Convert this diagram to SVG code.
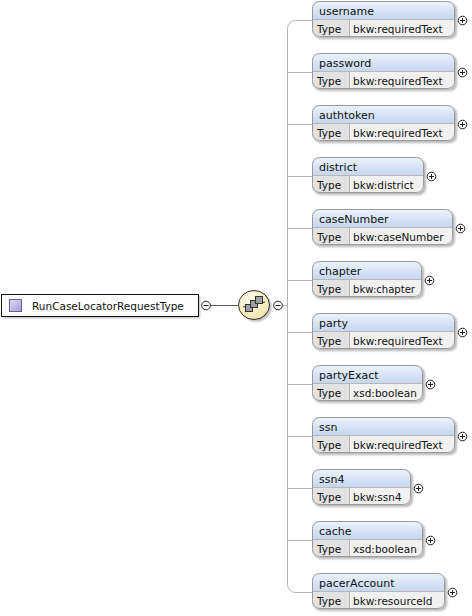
<svg xmlns="http://www.w3.org/2000/svg" width="472" height="616" viewBox="0 0 472 616">
<style>
text{font-family:"DejaVu Sans","Liberation Sans",sans-serif;font-size:11px;fill:#111}
.root-t{font-size:10.5px}
.v,.t{font-size:10.5px}
.shadow{fill:#000;opacity:.28;filter:url(#blur)}
.hdr{fill:url(#hdrGrad)}
.tcell{fill:#e2e2e2}
.vcell{fill:#f1f1f1}
.border{fill:none;stroke:#9a9a9a;stroke-width:1}
.div{stroke:#b8b8b8;stroke-width:1}
.conn{fill:none;stroke:#b4b4b4;stroke-width:1}
.dark{fill:none;stroke:#5a5a5a;stroke-width:1}
.pm{fill:#fff;stroke:#222;stroke-width:1}
.pml{stroke:#222;stroke-width:1}
</style>
<defs>
<filter id="blur" x="-10%" y="-20%" width="120%" height="140%"><feGaussianBlur stdDeviation="1"/></filter>
<linearGradient id="hdrGrad" x1="0" y1="0" x2="0" y2="1"><stop offset="0" stop-color="#eef3fb"/><stop offset="1" stop-color="#c6d6f0"/></linearGradient>
<linearGradient id="purGrad" x1="0" y1="0" x2="1" y2="1"><stop offset="0" stop-color="#e4dcf6"/><stop offset="1" stop-color="#a999d6"/></linearGradient>
<radialGradient id="compGrad" cx="0.4" cy="0.35" r="0.7"><stop offset="0" stop-color="#fffdf0"/><stop offset="1" stop-color="#efe3a6"/></radialGradient>
</defs>

<g id="connectors">
<line class="dark" x1="210.5" y1="305.5" x2="238.5" y2="305.5"/>
<line class="conn" x1="282.5" y1="305.5" x2="287.5" y2="305.5"/>
<path class="conn" d="M312,20.5 H295.5 A8,8 0 0 0 287.5,28.5 V584.5 A8,8 0 0 0 295.5,592.5 H312"/>
<path class="conn" d="M287.5,72.5 H312 M287.5,124.5 H312 M287.5,176.5 H312 M287.5,228.5 H312 M287.5,280.5 H312 M287.5,332.5 H312 M287.5,384.5 H312 M287.5,436.5 H312 M287.5,488.5 H312 M287.5,540.5 H312"/>
</g>

<g id="root">
<rect class="shadow" x="3" y="296" width="197" height="22"/>
<rect x="1.5" y="294.5" width="197" height="22" fill="#fdfdfd" stroke="#111"/>
<rect x="9.5" y="299.5" width="12" height="12" fill="url(#purGrad)" stroke="#6b5c9e"/>
<text class="root-t" x="32" y="309.5">RunCaseLocatorRequestType</text>
<circle class="pm" cx="206" cy="305.5" r="4.3"/>
<line class="pml" x1="203.5" y1="305.5" x2="208.5" y2="305.5"/>
</g>

<g id="sequence">
<ellipse class="shadow" cx="256" cy="307" rx="15.5" ry="14.5"/>
<ellipse cx="254" cy="305" rx="15.5" ry="14.5" fill="url(#compGrad)" stroke="#333"/>
<line x1="243" y1="307" x2="265" y2="302" stroke="#333"/>
<rect x="245.5" y="304.5" width="7" height="7" fill="#a0a0a0" stroke="#333"/>
<rect x="250.5" y="300.5" width="7" height="7" fill="#a0a0a0" stroke="#333"/>
<rect x="255.5" y="296.5" width="7" height="7" fill="#a0a0a0" stroke="#333"/>
<circle class="pm" cx="278" cy="305.5" r="4.3"/>
<line class="pml" x1="275.5" y1="305.5" x2="280.5" y2="305.5"/>
</g>

<g id="el-username" transform="translate(312,1)">
<rect class="shadow" x="2" y="2" width="143" height="36" rx="7"/>
<path class="hdr" d="M0,18 V7 A7,7 0 0 1 7,0 H136 A7,7 0 0 1 143,7 V18 Z"/>
<path class="tcell" d="M0,18 H37 V36 H7 A7,7 0 0 1 0,29 Z"/>
<path class="vcell" d="M37,18 H143 V29 A7,7 0 0 1 136,36 H37 Z"/>
<line class="div" x1="0" y1="18.5" x2="143" y2="18.5"/><line class="div" x1="37.5" y1="18.5" x2="37.5" y2="36"/>
<rect class="border" x="0.5" y="0.5" width="142" height="35" rx="7"/>
<text x="7" y="13.5">username</text><text class="t" x="5" y="32">Type</text><text class="v" x="41" y="32">bkw:requiredText</text>
<circle class="pm" cx="150.5" cy="19.5" r="4.3"/><path class="pml" d="M148,19.5 H153 M150.5,17 V22"/>
</g>

<g id="el-password" transform="translate(312,53)">
<rect class="shadow" x="2" y="2" width="143" height="36" rx="7"/>
<path class="hdr" d="M0,18 V7 A7,7 0 0 1 7,0 H136 A7,7 0 0 1 143,7 V18 Z"/>
<path class="tcell" d="M0,18 H37 V36 H7 A7,7 0 0 1 0,29 Z"/>
<path class="vcell" d="M37,18 H143 V29 A7,7 0 0 1 136,36 H37 Z"/>
<line class="div" x1="0" y1="18.5" x2="143" y2="18.5"/><line class="div" x1="37.5" y1="18.5" x2="37.5" y2="36"/>
<rect class="border" x="0.5" y="0.5" width="142" height="35" rx="7"/>
<text x="7" y="13.5">password</text><text class="t" x="5" y="32">Type</text><text class="v" x="41" y="32">bkw:requiredText</text>
<circle class="pm" cx="150.5" cy="19.5" r="4.3"/><path class="pml" d="M148,19.5 H153 M150.5,17 V22"/>
</g>

<g id="el-authtoken" transform="translate(312,105)">
<rect class="shadow" x="2" y="2" width="143" height="36" rx="7"/>
<path class="hdr" d="M0,18 V7 A7,7 0 0 1 7,0 H136 A7,7 0 0 1 143,7 V18 Z"/>
<path class="tcell" d="M0,18 H37 V36 H7 A7,7 0 0 1 0,29 Z"/>
<path class="vcell" d="M37,18 H143 V29 A7,7 0 0 1 136,36 H37 Z"/>
<line class="div" x1="0" y1="18.5" x2="143" y2="18.5"/><line class="div" x1="37.5" y1="18.5" x2="37.5" y2="36"/>
<rect class="border" x="0.5" y="0.5" width="142" height="35" rx="7"/>
<text x="7" y="13.5">authtoken</text><text class="t" x="5" y="32">Type</text><text class="v" x="41" y="32">bkw:requiredText</text>
<circle class="pm" cx="150.5" cy="19.5" r="4.3"/><path class="pml" d="M148,19.5 H153 M150.5,17 V22"/>
</g>

<g id="el-district" transform="translate(312,157)">
<rect class="shadow" x="2" y="2" width="112" height="36" rx="7"/>
<path class="hdr" d="M0,18 V7 A7,7 0 0 1 7,0 H105 A7,7 0 0 1 112,7 V18 Z"/>
<path class="tcell" d="M0,18 H37 V36 H7 A7,7 0 0 1 0,29 Z"/>
<path class="vcell" d="M37,18 H112 V29 A7,7 0 0 1 105,36 H37 Z"/>
<line class="div" x1="0" y1="18.5" x2="112" y2="18.5"/><line class="div" x1="37.5" y1="18.5" x2="37.5" y2="36"/>
<rect class="border" x="0.5" y="0.5" width="111" height="35" rx="7"/>
<text x="7" y="13.5">district</text><text class="t" x="5" y="32">Type</text><text class="v" x="41" y="32">bkw:district</text>
<circle class="pm" cx="119.5" cy="19.5" r="4.3"/><path class="pml" d="M117,19.5 H122 M119.5,17 V22"/>
</g>

<g id="el-caseNumber" transform="translate(312,209)">
<rect class="shadow" x="2" y="2" width="141" height="36" rx="7"/>
<path class="hdr" d="M0,18 V7 A7,7 0 0 1 7,0 H134 A7,7 0 0 1 141,7 V18 Z"/>
<path class="tcell" d="M0,18 H37 V36 H7 A7,7 0 0 1 0,29 Z"/>
<path class="vcell" d="M37,18 H141 V29 A7,7 0 0 1 134,36 H37 Z"/>
<line class="div" x1="0" y1="18.5" x2="141" y2="18.5"/><line class="div" x1="37.5" y1="18.5" x2="37.5" y2="36"/>
<rect class="border" x="0.5" y="0.5" width="140" height="35" rx="7"/>
<text x="7" y="13.5">caseNumber</text><text class="t" x="5" y="32">Type</text><text class="v" x="41" y="32">bkw:caseNumber</text>
<circle class="pm" cx="148.5" cy="19.5" r="4.3"/><path class="pml" d="M146,19.5 H151 M148.5,17 V22"/>
</g>

<g id="el-chapter" transform="translate(312,261)">
<rect class="shadow" x="2" y="2" width="110" height="36" rx="7"/>
<path class="hdr" d="M0,18 V7 A7,7 0 0 1 7,0 H103 A7,7 0 0 1 110,7 V18 Z"/>
<path class="tcell" d="M0,18 H37 V36 H7 A7,7 0 0 1 0,29 Z"/>
<path class="vcell" d="M37,18 H110 V29 A7,7 0 0 1 103,36 H37 Z"/>
<line class="div" x1="0" y1="18.5" x2="110" y2="18.5"/><line class="div" x1="37.5" y1="18.5" x2="37.5" y2="36"/>
<rect class="border" x="0.5" y="0.5" width="109" height="35" rx="7"/>
<text x="7" y="13.5">chapter</text><text class="t" x="5" y="32">Type</text><text class="v" x="41" y="32" textLength="62" lengthAdjust="spacingAndGlyphs">bkw:chapter</text>
<circle class="pm" cx="117.5" cy="19.5" r="4.3"/><path class="pml" d="M115,19.5 H120 M117.5,17 V22"/>
</g>

<g id="el-party" transform="translate(312,313)">
<rect class="shadow" x="2" y="2" width="143" height="36" rx="7"/>
<path class="hdr" d="M0,18 V7 A7,7 0 0 1 7,0 H136 A7,7 0 0 1 143,7 V18 Z"/>
<path class="tcell" d="M0,18 H37 V36 H7 A7,7 0 0 1 0,29 Z"/>
<path class="vcell" d="M37,18 H143 V29 A7,7 0 0 1 136,36 H37 Z"/>
<line class="div" x1="0" y1="18.5" x2="143" y2="18.5"/><line class="div" x1="37.5" y1="18.5" x2="37.5" y2="36"/>
<rect class="border" x="0.5" y="0.5" width="142" height="35" rx="7"/>
<text x="7" y="13.5">party</text><text class="t" x="5" y="32">Type</text><text class="v" x="41" y="32">bkw:requiredText</text>
<circle class="pm" cx="150.5" cy="19.5" r="4.3"/><path class="pml" d="M148,19.5 H153 M150.5,17 V22"/>
</g>

<g id="el-partyExact" transform="translate(312,365)">
<rect class="shadow" x="2" y="2" width="111" height="36" rx="7"/>
<path class="hdr" d="M0,18 V7 A7,7 0 0 1 7,0 H104 A7,7 0 0 1 111,7 V18 Z"/>
<path class="tcell" d="M0,18 H37 V36 H7 A7,7 0 0 1 0,29 Z"/>
<path class="vcell" d="M37,18 H111 V29 A7,7 0 0 1 104,36 H37 Z"/>
<line class="div" x1="0" y1="18.5" x2="111" y2="18.5"/><line class="div" x1="37.5" y1="18.5" x2="37.5" y2="36"/>
<rect class="border" x="0.5" y="0.5" width="110" height="35" rx="7"/>
<text x="7" y="13.5">partyExact</text><text class="t" x="5" y="32">Type</text><text class="v" x="41" y="32">xsd:boolean</text>
<circle class="pm" cx="118.5" cy="19.5" r="4.3"/><path class="pml" d="M116,19.5 H121 M118.5,17 V22"/>
</g>

<g id="el-ssn" transform="translate(312,417)">
<rect class="shadow" x="2" y="2" width="143" height="36" rx="7"/>
<path class="hdr" d="M0,18 V7 A7,7 0 0 1 7,0 H136 A7,7 0 0 1 143,7 V18 Z"/>
<path class="tcell" d="M0,18 H37 V36 H7 A7,7 0 0 1 0,29 Z"/>
<path class="vcell" d="M37,18 H143 V29 A7,7 0 0 1 136,36 H37 Z"/>
<line class="div" x1="0" y1="18.5" x2="143" y2="18.5"/><line class="div" x1="37.5" y1="18.5" x2="37.5" y2="36"/>
<rect class="border" x="0.5" y="0.5" width="142" height="35" rx="7"/>
<text x="7" y="13.5">ssn</text><text class="t" x="5" y="32">Type</text><text class="v" x="41" y="32">bkw:requiredText</text>
<circle class="pm" cx="150.5" cy="19.5" r="4.3"/><path class="pml" d="M148,19.5 H153 M150.5,17 V22"/>
</g>

<g id="el-ssn4" transform="translate(312,469)">
<rect class="shadow" x="2" y="2" width="99" height="36" rx="7"/>
<path class="hdr" d="M0,18 V7 A7,7 0 0 1 7,0 H92 A7,7 0 0 1 99,7 V18 Z"/>
<path class="tcell" d="M0,18 H37 V36 H7 A7,7 0 0 1 0,29 Z"/>
<path class="vcell" d="M37,18 H99 V29 A7,7 0 0 1 92,36 H37 Z"/>
<line class="div" x1="0" y1="18.5" x2="99" y2="18.5"/><line class="div" x1="37.5" y1="18.5" x2="37.5" y2="36"/>
<rect class="border" x="0.5" y="0.5" width="98" height="35" rx="7"/>
<text x="7" y="13.5">ssn4</text><text class="t" x="5" y="32">Type</text><text class="v" x="41" y="32">bkw:ssn4</text>
<circle class="pm" cx="106.5" cy="19.5" r="4.3"/><path class="pml" d="M104,19.5 H109 M106.5,17 V22"/>
</g>

<g id="el-cache" transform="translate(312,521)">
<rect class="shadow" x="2" y="2" width="111" height="36" rx="7"/>
<path class="hdr" d="M0,18 V7 A7,7 0 0 1 7,0 H104 A7,7 0 0 1 111,7 V18 Z"/>
<path class="tcell" d="M0,18 H37 V36 H7 A7,7 0 0 1 0,29 Z"/>
<path class="vcell" d="M37,18 H111 V29 A7,7 0 0 1 104,36 H37 Z"/>
<line class="div" x1="0" y1="18.5" x2="111" y2="18.5"/><line class="div" x1="37.5" y1="18.5" x2="37.5" y2="36"/>
<rect class="border" x="0.5" y="0.5" width="110" height="35" rx="7"/>
<text x="7" y="13.5">cache</text><text class="t" x="5" y="32">Type</text><text class="v" x="41" y="32">xsd:boolean</text>
<circle class="pm" cx="118.5" cy="19.5" r="4.3"/><path class="pml" d="M116,19.5 H121 M118.5,17 V22"/>
</g>

<g id="el-pacerAccount" transform="translate(312,573)">
<rect class="shadow" x="2" y="2" width="133" height="36" rx="7"/>
<path class="hdr" d="M0,18 V7 A7,7 0 0 1 7,0 H126 A7,7 0 0 1 133,7 V18 Z"/>
<path class="tcell" d="M0,18 H37 V36 H7 A7,7 0 0 1 0,29 Z"/>
<path class="vcell" d="M37,18 H133 V29 A7,7 0 0 1 126,36 H37 Z"/>
<line class="div" x1="0" y1="18.5" x2="133" y2="18.5"/><line class="div" x1="37.5" y1="18.5" x2="37.5" y2="36"/>
<rect class="border" x="0.5" y="0.5" width="132" height="35" rx="7"/>
<text x="7" y="13.5">pacerAccount</text><text class="t" x="5" y="32">Type</text><text class="v" x="41" y="32">bkw:resourceId</text>
<circle class="pm" cx="140.5" cy="19.5" r="4.3"/><path class="pml" d="M138,19.5 H143 M140.5,17 V22"/>
</g>
</svg>
